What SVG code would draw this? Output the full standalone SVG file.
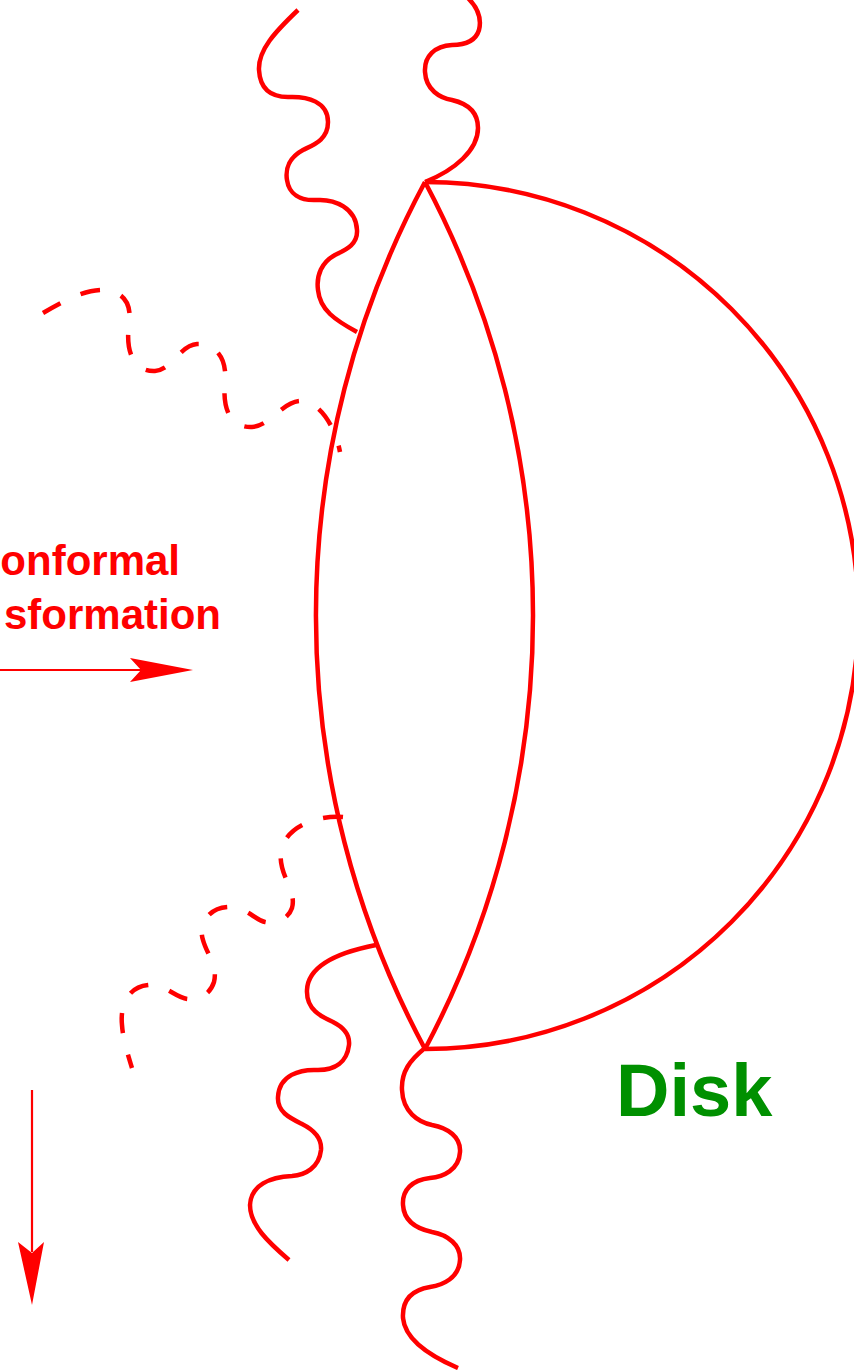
<svg xmlns="http://www.w3.org/2000/svg" width="854" height="1370" viewBox="0 0 854 1370">
<style>
.s{fill:none;stroke:#ff0000;stroke-width:4.5;stroke-linecap:butt;stroke-linejoin:miter}
.d{fill:none;stroke:#ff0000;stroke-width:4.5;stroke-dasharray:20,22}
.a{fill:none;stroke:#ff0000;stroke-width:2.2}
.ah{fill:#ff0000;stroke:none}
.t{font-family:"Liberation Sans",Arial,sans-serif;font-weight:bold}
</style>
<rect width="854" height="1370" fill="#ffffff"/>
<g id="disk">
<path class="s" d="M425,182 A433.5,433.5 0 0 1 425,1049"/>
<path class="s" d="M425,182 A916,916 0 0 0 425,1049"/>
<path class="s" d="M425,182 A924,924 0 0 1 425,1049"/>
</g>
<g id="connectors">
<path class="s" d="M298,10 C275,32 258,50 259,70 C260,88 270,97 288,97 C308,96 328,102 328,122 C328,140 313,145 303,150 C290,157 285,168 287,180 C289,194 300,201 317,200 C335,199 356,208 357,230 C358,245 345,250 335,255 C322,262 316,275 318,290 C320,310 335,320 357,332"/>
<path class="s" d="M468,-2 C478,8 482,18 479,30 C475,43 462,45 452,45 C435,46 424,56 425,72 C426,90 440,98 452,100 C465,103 478,110 478,128 C478,150 455,170 425,182"/>
<path class="s" d="M425,1048 C410,1060 401,1072 402,1090 C403,1112 418,1122 432,1125 C448,1128 461,1137 460,1152 C459,1170 443,1177 430,1178 C412,1180 402,1190 403,1205 C404,1222 418,1229 432,1232 C448,1235 461,1245 460,1260 C459,1278 443,1285 430,1287 C412,1290 402,1300 403,1318 C405,1340 430,1356 458,1368"/>
<path class="s" d="M376,945 C340,952 308,965 307,990 C306,1010 322,1017 333,1022 C345,1028 350,1035 349,1045 C347,1062 335,1070 318,1070 C300,1069 279,1075 278,1097 C277,1112 290,1118 302,1124 C314,1130 322,1138 321,1150 C319,1168 305,1175 292,1176 C270,1177 251,1185 250,1205 C250,1225 268,1242 289,1260"/>
<path class="d" d="M43,313 C68,298 88,289 105,290 C125,292 132,305 129,325 C126,345 130,372 155,371 C172,370 180,345 197,344 C215,343 227,358 225,380 C223,400 225,428 252,427 C270,426 282,402 300,401 C318,400 335,425 340,452"/>
<path class="d" d="M343,817 C320,815 285,825 281,852 C278,875 297,890 292,908 C288,920 275,924 265,922 C255,920 245,906 228,907 C208,908 198,925 203,940 C207,955 218,965 214,982 C210,995 198,1000 188,999 C175,998 165,983 148,985 C128,987 120,1005 122,1025 C123,1040 128,1055 132,1068"/>
</g>
<g id="arrow-right">
<line class="a" x1="0" y1="670" x2="142" y2="670"/>
<polygon class="ah" points="130,658 193,670 130,682 141,670"/>
</g>
<g id="arrow-down">
<line class="a" x1="32" y1="1090" x2="32" y2="1252"/>
<polygon class="ah" points="18,1242 32,1305 44,1242 32,1253"/>
</g>
<g id="labels">
<text class="t" x="180" y="575" font-size="42" fill="#ff0000" text-anchor="end">onformal</text>
<text class="t" x="221" y="629" font-size="42" fill="#ff0000" text-anchor="end">sformation</text>
<text class="t" x="616" y="1116" font-size="74" fill="#009000">Disk</text>
</g>
</svg>
